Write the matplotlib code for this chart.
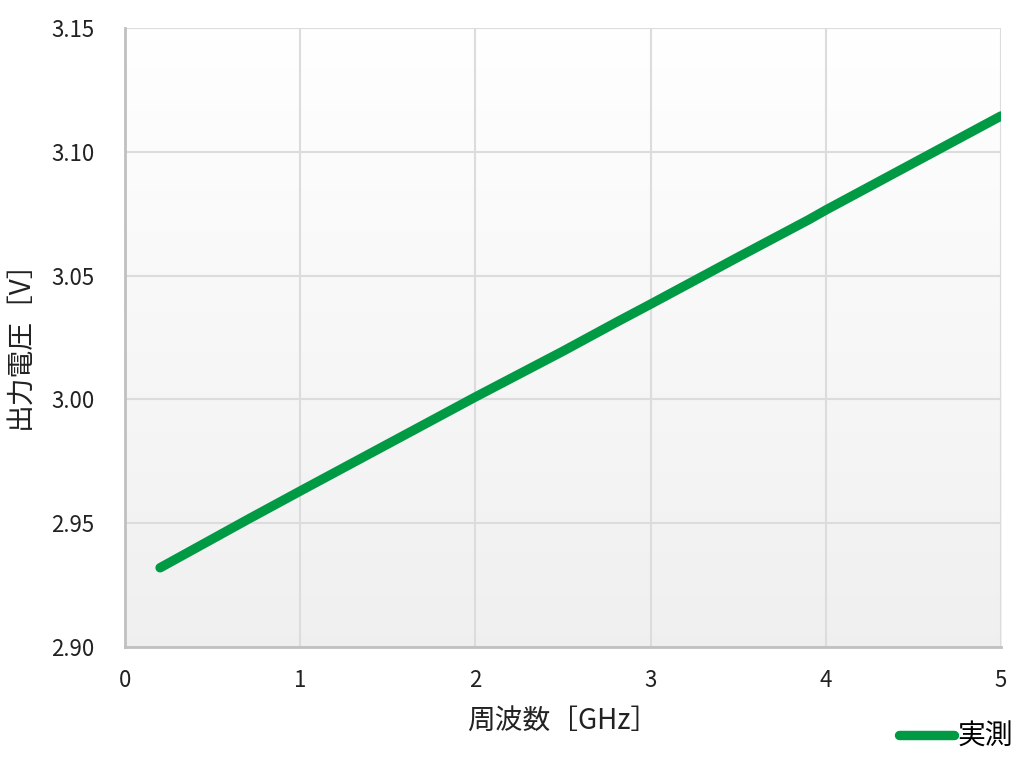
import numpy as np
import matplotlib.pyplot as plt

plt.rcParams['font.family'] = ['Noto Sans CJK JP', 'DejaVu Sans']

freq_ghz = [0.2, 0.5, 0.7, 1.0, 1.5, 2.0, 2.5, 2.8, 3.0, 3.5, 3.9, 4.0, 4.5, 5.0]
voltage = [2.932, 2.9437, 2.9515, 2.963, 2.982, 3.001, 3.0195, 3.031, 3.0385, 3.0575,
           3.0725, 3.0765, 3.0955, 3.1145]

x_ticks = [0, 1, 2, 3, 4, 5]
y_ticks = [2.90, 2.95, 3.00, 3.05, 3.10, 3.15]

fig = plt.figure(figsize=(10.24, 7.62), dpi=100)
ax = fig.add_axes([0.1221, 0.1509, 0.8555, 0.8123])

# vertical gradient background
grad = np.linspace(1.0, 0.94, 256).reshape(-1, 1)
ax.imshow(np.dstack([grad, grad, grad]), extent=[0, 1, 0, 1], transform=ax.transAxes,
          aspect='auto', zorder=0, origin='upper')

ax.plot(freq_ghz, voltage, color='#009944', linewidth=6.8, solid_capstyle='round',
        label='実測', zorder=3)

ax.set_xlim(0, 5)
ax.set_ylim(2.90, 3.15)
ax.set_xticks(x_ticks)
ax.set_yticks(y_ticks)
ax.set_yticklabels([f'{v:.2f}' for v in y_ticks])
ax.tick_params(axis='both', length=0, labelsize=16, colors='#222222')
ax.tick_params(axis='x', pad=16)
ax.tick_params(axis='y', pad=22)

ax.grid(True, color='#dcdcdc', linewidth=1.5, zorder=1)
ax.set_axisbelow(True)
for side in ['top', 'right']:
    ax.spines[side].set_visible(False)
for side in ['left', 'bottom']:
    ax.spines[side].set_color('#c0c0c0')
    ax.spines[side].set_linewidth(2)

ax.set_xlabel('周波数［GHz］', fontsize=20, labelpad=10, color='#222222')
ax.set_ylabel('出力電圧［V］', fontsize=20, labelpad=12, color='#222222')

fig.legend(loc='lower right', bbox_to_anchor=(1.008, -0.012), frameon=False,
           fontsize=20, handlelength=2.0, handletextpad=0.1, borderaxespad=0.3)

fig.savefig('out.png', dpi=100)
